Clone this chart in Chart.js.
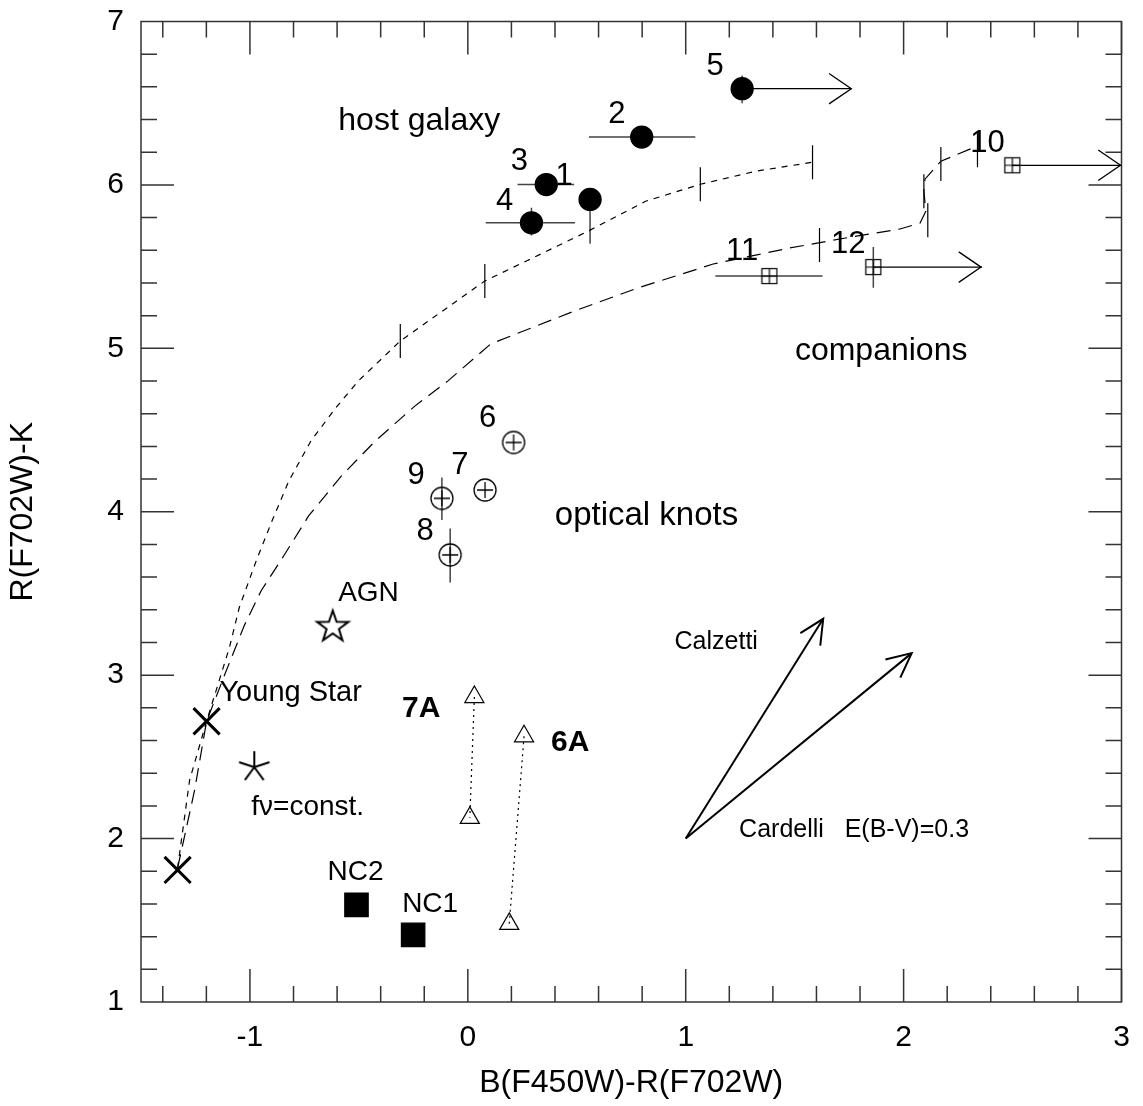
<!DOCTYPE html>
<html>
<head>
<meta charset="utf-8">
<script src="https://cdn.jsdelivr.net/npm/chart.js@4/dist/chart.umd.min.js"></script>
<style>
  html, body { margin: 0; padding: 0; background: #fff; }
</style>
</head>
<body>
<canvas id="c" width="1143" height="1106"></canvas>
<script>
// host galaxy (filled circles), labels 1..5
const hostNames = ['1', '2', '3', '4', '5'];
const hostX = [0.561, 0.798, 0.360, 0.292, 1.259];
const hostY = [5.911, 6.293, 6.002, 5.768, 6.589];
const hostXLo = [null, 0.556, 0.228, 0.082, null];
const hostXHi = [null, 1.044, 0.488, 0.492, null];
const hostYLo = [5.64, null, null, 5.69, 6.50];
const hostYHi = [5.95, null, null, 5.86, 6.67];
const hostLimit = [null, null, null, null, 1.76];

// companions (boxed plus), labels 10..12
const compNames = ['10', '11', '12'];
const compX = [2.499, 1.384, 1.861];
const compY = [6.120, 5.442, 5.497];
const compXLo = [null, 1.136, null];
const compXHi = [null, 1.628, null];
const compYLo = [null, null, 5.37];
const compYHi = [null, null, 5.62];
const compLimit = [3.0, null, 2.36];

// optical knots (circled plus), labels 6..9
const knotNames = ['6', '7', '8', '9'];
const knotX = [0.210, 0.079, -0.081, -0.119];
const knotY = [4.424, 4.133, 3.736, 4.082];
const knotYLo = [null, null, 3.567, 3.95];
const knotYHi = [null, null, 3.897, 4.21];

const agnX = [-0.620], agnY = [3.304];
const youngX = [-1.332, -1.199], youngY = [1.808, 2.718];
const fnuX = [-0.980], fnuY = [2.437];
const ncNames = ['NC2', 'NC1'];
const ncX = [-0.511, -0.251];
const ncY = [1.594, 1.411];

// 7A / 6A pairs (triangles joined by dotted lines)
const a7X = [0.030, 0.009], a7Y = [2.866, 2.127];
const a6X = [0.258, 0.190], a6Y = [2.626, 1.478];

// model tracks
const shortX = [-1.332, -1.277, -1.199, -1.094, -1.049, -0.971, -0.898, -0.821, -0.720, -0.606, -0.502, -0.310, 0.078, 0.296, 0.552, 0.816, 1.067, 1.322, 1.582];
const shortY = [1.820, 2.357, 2.718, 3.170, 3.414, 3.701, 3.946, 4.190, 4.434, 4.636, 4.801, 5.045, 5.412, 5.552, 5.717, 5.900, 6.004, 6.084, 6.139];
const shortTickX = [-0.310, 0.078, 1.067, 1.582];
const shortTickY = [5.045, 5.412, 6.004, 6.139];
const longX = [-1.332, -1.254, -1.199, -1.117, -1.026, -0.948, -0.844, -0.730, -0.579, -0.424, -0.242, -0.091, 0.105, 0.488, 0.780, 1.126, 1.473, 1.783, 1.979, 2.075, 2.102, 2.093, 2.098, 2.171, 2.335];
const longY = [1.820, 2.296, 2.718, 2.999, 3.304, 3.518, 3.732, 3.976, 4.221, 4.434, 4.648, 4.801, 5.027, 5.228, 5.369, 5.516, 5.613, 5.687, 5.729, 5.766, 5.839, 5.962, 6.035, 6.145, 6.236];
const longTickX = [1.614, 2.111, 2.093, 2.171, 2.339];
const longTickY = [5.633, 5.784, 5.962, 6.128, 6.212];

// reddening vectors E(B-V)=0.3
const redOrigin = [1.0, 2.0];
const calzettiTip = [1.631, 3.345];
const cardelliTip = [2.037, 3.135];

const xTickVals = [-1, 0, 1, 2, 3];
const xTickLabels = ['-1', '0', '1', '2', '3'];
const yTickVals = [1, 2, 3, 4, 5, 6, 7];
const yTickLabels = ['1', '2', '3', '4', '5', '6', '7'];

const FONT = '"Liberation Sans", Arial, Helvetica, sans-serif';

// text annotations, placed in data coordinates
const notes = [
    { t: '5', x: 1.135, y: 6.725, s: 31 },
    { t: '2', x: 0.684, y: 6.432, s: 31 },
    { t: '3', x: 0.237, y: 6.145, s: 31 },
    { t: '1', x: 0.442, y: 6.053, s: 31 },
    { t: '4', x: 0.169, y: 5.900, s: 31 },
    { t: '10', x: 2.385, y: 6.255, s: 31 },
    { t: '11', x: 1.259, y: 5.595, s: 31 },
    { t: '12', x: 1.746, y: 5.638, s: 31 },
    { t: '6', x: 0.091, y: 4.569, s: 31 },
    { t: '7', x: -0.036, y: 4.282, s: 31 },
    { t: '9', x: -0.237, y: 4.221, s: 31 },
    { t: '8', x: -0.196, y: 3.878, s: 31 },
    { t: 'host galaxy', x: -0.223, y: 6.389, s: 32 },
    { t: 'companions', x: 1.897, y: 4.984, s: 32 },
    { t: 'optical knots', x: 0.820, y: 3.976, s: 33 },
    { t: 'AGN', x: -0.456, y: 3.500, s: 28 },
    { t: 'Young Star', x: -1.140, y: 2.889, s: 29, a: 'left' },
    { t: 'f\u03bd=const.', x: -0.994, y: 2.192, s: 28, a: 'left' },
    { t: 'NC2', x: -0.515, y: 1.795, s: 28 },
    { t: 'NC1', x: -0.173, y: 1.600, s: 28 },
    { t: '7A', x: -0.214, y: 2.797, s: 30, b: true },
    { t: '6A', x: 0.470, y: 2.589, s: 30, b: true },
    { t: 'Calzetti', x: 1.140, y: 3.200, s: 25 },
    { t: 'Cardelli   E(B-V)=0.3', x: 1.245, y: 2.052, s: 25, a: 'left' }
];

const pts = (xs, ys) => xs.map((x, i) => ({ x: x, y: ys[i] }));

function makeMarker(w, h, draw) {
    const c = document.createElement('canvas');
    c.width = w;
    c.height = h;
    const g = c.getContext('2d');
    g.strokeStyle = '#000';
    draw(g, w / 2, h / 2);
    return c;
}

const circlePlus = makeMarker(26, 26, (g, cx, cy) => {
    g.lineWidth = 1.3;
    g.beginPath();
    g.arc(cx, cy, 11, 0, Math.PI * 2);
    g.moveTo(cx - 8, cy); g.lineTo(cx + 8, cy);
    g.moveTo(cx, cy - 8); g.lineTo(cx, cy + 8);
    g.stroke();
});

const boxPlus = makeMarker(18, 18, (g, cx, cy) => {
    g.lineWidth = 1.2;
    g.strokeRect(1.5, 1.5, 15, 15);
    g.beginPath();
    g.moveTo(1.5, cy); g.lineTo(16.5, cy);
    g.moveTo(cx, 1.5); g.lineTo(cx, 16.5);
    g.stroke();
});

const openStar = makeMarker(38, 38, (g, cx, cy) => {
    g.lineWidth = 2;
    g.beginPath();
    for (let i = 0; i < 10; i++) {
        const r = i % 2 ? 6.5 : 16.5;
        const a = -Math.PI / 2 + i * Math.PI / 5;
        const px = cx + r * Math.cos(a), py = cy + 1.5 + r * Math.sin(a);
        if (i === 0) g.moveTo(px, py); else g.lineTo(px, py);
    }
    g.closePath();
    g.stroke();
});

const asterisk = makeMarker(38, 38, (g, cx, cy) => {
    g.lineWidth = 2;
    g.beginPath();
    for (let i = 0; i < 5; i++) {
        const a = -Math.PI / 2 + i * 2 * Math.PI / 5;
        g.moveTo(cx, cy);
        g.lineTo(cx + 16 * Math.cos(a), cy + 16 * Math.sin(a));
    }
    g.stroke();
});

const lineSet = (data, dash, width) => ({
    data: data,
    showLine: true,
    borderColor: '#000',
    borderWidth: width,
    borderDash: dash,
    pointRadius: 0,
    fill: false
});

const markSet = (data, style, radius, extra) => Object.assign({
    data: data,
    showLine: false,
    pointStyle: style,
    pointRadius: radius,
    borderColor: '#000',
    backgroundColor: 'rgba(0,0,0,0)',
    borderWidth: 1.3
}, extra || {});

function arrowHead(ctx, x0, y0, x1, y1, len, ang) {
    const a = Math.atan2(y1 - y0, x1 - x0);
    ctx.beginPath();
    ctx.moveTo(x1 - len * Math.cos(a - ang), y1 - len * Math.sin(a - ang));
    ctx.lineTo(x1, y1);
    ctx.lineTo(x1 - len * Math.cos(a + ang), y1 - len * Math.sin(a + ang));
    ctx.stroke();
}

const overlay = {
    id: 'overlay',
    beforeDatasetsDraw(chart) {
        const ctx = chart.ctx;
        const xs = chart.scales.x, ys = chart.scales.y;
        const px = v => xs.getPixelForValue(v), py = v => ys.getPixelForValue(v);
        const area = chart.chartArea;
        ctx.save();

        // frame with inward ticks on all four sides
        ctx.strokeStyle = '#333';
        ctx.lineWidth = 1.5;
        ctx.strokeRect(area.left, area.top, area.right - area.left, area.bottom - area.top);
        ctx.beginPath();
        for (let i = -7; i <= 15; i++) {
            const v = i / 5, X = px(v), L = i % 5 === 0 ? 33 : 16;
            ctx.moveTo(X, area.bottom); ctx.lineTo(X, area.bottom - L);
            ctx.moveTo(X, area.top); ctx.lineTo(X, area.top + L);
        }
        for (let i = 6; i <= 34; i++) {
            const v = i / 5, Y = py(v), L = i % 5 === 0 ? 33 : 16;
            ctx.moveTo(area.left, Y); ctx.lineTo(area.left + L, Y);
            ctx.moveTo(area.right, Y); ctx.lineTo(area.right - L, Y);
        }
        ctx.stroke();

        // tick labels
        ctx.fillStyle = '#000';
        ctx.font = '30px ' + FONT;
        ctx.textBaseline = 'middle';
        ctx.textAlign = 'center';
        xTickVals.forEach((v, i) => ctx.fillText(xTickLabels[i], px(v), area.bottom + 36));
        ctx.textAlign = 'right';
        yTickVals.forEach((v, i) => ctx.fillText(yTickLabels[i], area.left - 17, py(v)));

        // error bars
        ctx.strokeStyle = '#444';
        ctx.lineWidth = 1.5;
        ctx.beginPath();
        const bars = (X, Y, xlo, xhi, ylo, yhi) => {
            X.forEach((x, i) => {
                if (xlo && xlo[i] !== null) { ctx.moveTo(px(xlo[i]), py(Y[i])); ctx.lineTo(px(xhi[i]), py(Y[i])); }
                if (ylo && ylo[i] !== null) { ctx.moveTo(px(x), py(ylo[i])); ctx.lineTo(px(x), py(yhi[i])); }
            });
        };
        bars(hostX, hostY, hostXLo, hostXHi, hostYLo, hostYHi);
        bars(compX, compY, compXLo, compXHi, compYLo, compYHi);
        bars(knotX, knotY, null, null, knotYLo, knotYHi);
        ctx.stroke();

        // age ticks on the model tracks
        ctx.strokeStyle = '#000';
        ctx.lineWidth = 1.2;
        ctx.beginPath();
        const ticks = (TX, TY) => TX.forEach((x, i) => {
            ctx.moveTo(px(x), py(TY[i]) - 17);
            ctx.lineTo(px(x), py(TY[i]) + 17);
        });
        ticks(shortTickX, shortTickY);
        ticks(longTickX, longTickY);
        ctx.stroke();
        ctx.restore();
    },
    afterDatasetsDraw(chart) {
        const ctx = chart.ctx;
        const xs = chart.scales.x, ys = chart.scales.y;
        const px = v => xs.getPixelForValue(v), py = v => ys.getPixelForValue(v);
        ctx.save();
        ctx.strokeStyle = '#000';

        // lower-limit arrowheads
        ctx.lineWidth = 1.3;
        hostLimit.forEach((to, i) => {
            if (to !== null) arrowHead(ctx, px(hostX[i]), py(hostY[i]), px(to), py(hostY[i]), 27, 0.6);
        });
        compLimit.forEach((to, i) => {
            if (to !== null) arrowHead(ctx, px(compX[i]), py(compY[i]), px(to) - 1, py(compY[i]), 27, 0.6);
        });

        // reddening vector heads
        ctx.lineWidth = 2;
        arrowHead(ctx, px(redOrigin[0]), py(redOrigin[1]), px(calzettiTip[0]), py(calzettiTip[1]), 27, 0.45);
        arrowHead(ctx, px(redOrigin[0]), py(redOrigin[1]), px(cardelliTip[0]), py(cardelliTip[1]), 27, 0.45);

        // text
        ctx.fillStyle = '#000';
        ctx.textBaseline = 'middle';
        notes.forEach(n => {
            ctx.font = (n.b ? 'bold ' : '') + n.s + 'px ' + FONT;
            ctx.textAlign = n.a || 'center';
            ctx.fillText(n.t, px(n.x), py(n.y));
        });
        ctx.restore();
    }
};

new Chart(document.getElementById('c'), {
    type: 'scatter',
    data: {
        datasets: [
            lineSet(pts(shortX, shortY), [6, 6], 1.2),
            lineSet(pts(longX, longY), [14, 8], 1.2),
            lineSet(pts(a7X, a7Y), [2, 4], 1.2),
            lineSet(pts(a6X, a6Y), [2, 4], 1.2),
            lineSet([{ x: hostX[4], y: hostY[4] }, { x: hostLimit[4], y: hostY[4] }], [], 1.3),
            lineSet([{ x: compX[0], y: compY[0] }, { x: compLimit[0], y: compY[0] }], [], 1.3),
            lineSet([{ x: compX[2], y: compY[2] }, { x: compLimit[2], y: compY[2] }], [], 1.3),
            lineSet(pts([redOrigin[0], calzettiTip[0]], [redOrigin[1], calzettiTip[1]]), [], 2),
            lineSet(pts([redOrigin[0], cardelliTip[0]], [redOrigin[1], cardelliTip[1]]), [], 2),
            markSet(pts(hostX, hostY), 'circle', 11, { backgroundColor: '#000' }),
            markSet(pts(compX, compY), boxPlus, 9),
            markSet(pts(knotX, knotY), circlePlus, 12),
            markSet(pts(agnX, agnY), openStar, 16),
            markSet(pts(fnuX, fnuY), asterisk, 16),
            markSet(pts(youngX, youngY), 'crossRot', 18.5, { borderWidth: 3 }),
            markSet(pts(ncX, ncY), 'rect', 16.5, { backgroundColor: '#000' }),
            markSet(pts(a7X, a7Y), 'triangle', 11, { borderWidth: 1.2 }),
            markSet(pts(a6X, a6Y), 'triangle', 11, { borderWidth: 1.2 })
        ]
    },
    options: {
        responsive: false,
        animation: false,
        clip: false,
        layout: { padding: { left: 0, right: 13, top: 20, bottom: 0 } },
        plugins: { legend: { display: false }, tooltip: { enabled: false } },
        scales: {
            x: {
                type: 'linear',
                min: -1.5,
                max: 3,
                afterBuildTicks: s => { s.ticks = xTickVals.map(v => ({ value: v })); },
                afterFit: s => { s.height = 104; },
                grid: { display: false, drawTicks: false },
                border: { display: false },
                ticks: { display: false },
                title: { display: true, text: 'B(F450W)-R(F702W)', color: '#000', font: { family: FONT, size: 32 }, padding: { top: 0, bottom: 4 } }
            },
            y: {
                type: 'linear',
                min: 1,
                max: 7,
                afterBuildTicks: s => { s.ticks = yTickVals.map(v => ({ value: v })); },
                afterFit: s => { s.width = 141; },
                grid: { display: false, drawTicks: false },
                border: { display: false },
                ticks: { display: false },
                title: { display: true, text: 'R(F702W)-K', color: '#000', font: { family: FONT, size: 32 }, padding: { top: 4, bottom: 0 } }
            }
        }
    },
    plugins: [overlay]
});
</script>
</body>
</html>
